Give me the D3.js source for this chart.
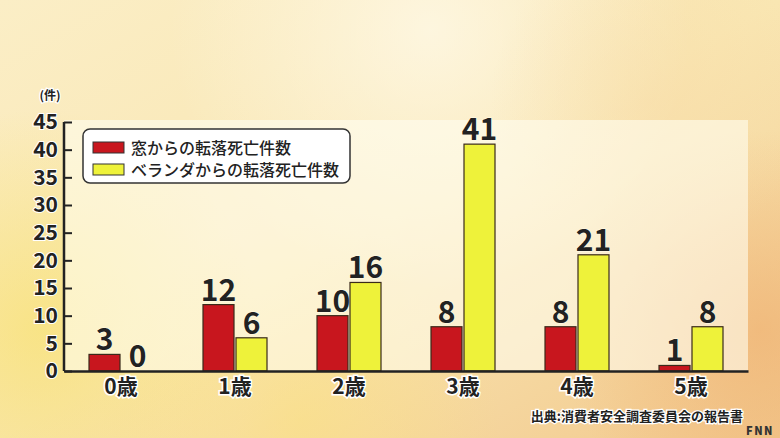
<!DOCTYPE html>
<html><head><meta charset="utf-8">
<script src="https://cdn.jsdelivr.net/npm/d3@7"></script>
<style>
html,body{margin:0;padding:0;background:#f6e4b4;}
svg{display:block;}
text{font-family:"Noto Sans CJK JP","Noto Sans",sans-serif;}
</style></head>
<body>
<svg id="chart" width="780" height="438"></svg>
<script>
const categories = ["0歳","1歳","2歳","3歳","4歳","5歳"];
const windowDeaths = [3,12,10,8,8,1];
const balconyDeaths = [0,6,16,41,21,8];
const seriesNames = ["窓からの転落死亡件数","ベランダからの転落死亡件数"];
const yTicks = [0,5,10,15,20,25,30,35,40,45];
const unitLabel = "(件)";
const sourceText = "出典:消費者安全調査委員会の報告書";

const svg = d3.select("#chart");
const W = 780, H = 438;
const m = {left:64, right:32, top:122, bottom:67};
const defs = svg.append("defs");

// background
const bg = defs.append("linearGradient").attr("id","bg").attr("x1",0).attr("y1",0).attr("x2",1).attr("y2",1);
bg.append("stop").attr("offset","0%").attr("stop-color","#fbeec6");
bg.append("stop").attr("offset","50%").attr("stop-color","#f9e6b2");
bg.append("stop").attr("offset","100%").attr("stop-color","#f2c98e");
svg.append("rect").attr("width",W).attr("height",H).attr("fill","url(#bg)");
function glow(id,cx,cy,r,color,op){
  const g = defs.append("radialGradient").attr("id",id);
  g.append("stop").attr("offset","0%").attr("stop-color",color).attr("stop-opacity",op);
  g.append("stop").attr("offset","100%").attr("stop-color",color).attr("stop-opacity",0);
  svg.append("circle").attr("cx",cx).attr("cy",cy).attr("r",r).attr("fill",`url(#${id})`);
}
glow("g1",40,330,220,"#f7e060",0.55);
glow("g2",760,330,200,"#eea968",0.55);
glow("g3",430,30,260,"#fffbee",0.7);
glow("g4",300,420,200,"#fbe27a",0.5);
glow("g5",650,100,160,"#f8dca8",0.5);

const x = d3.scaleBand().domain(categories).range([m.left, W-m.right]).padding(0);
const y = d3.scaleLinear().domain([0,45]).range([H-m.bottom, m.top]);

// panel
svg.append("rect").attr("x",m.left).attr("y",m.top-2).attr("width",W-m.right-m.left).attr("height",H-m.bottom-m.top+2)
  .attr("fill","#fffdf0").attr("opacity",0.6);

const barW = 31, gap = 2;
const colors = ["#c8161e","#eef23a"];
const data = categories.map((c,i)=>({c, vals:[windowDeaths[i], balconyDeaths[i]]}));

const gBars = svg.append("g");
data.forEach(d=>{
  const cx = x(d.c) + x.bandwidth()/2;
  d.vals.forEach((v,j)=>{
    const bx = j===0 ? cx - gap/2 - barW : cx + gap/2;
    if (v>0) {
      gBars.append("rect").attr("x",bx).attr("y",y(v)).attr("width",barW).attr("height",y(0)-y(v))
        .attr("fill",colors[j]).attr("stroke","#3a2a1a").attr("stroke-width",1.2);
    }
    gBars.append("text").attr("x",bx+barW/2).attr("y",y(v)-4).attr("text-anchor","middle")
      .attr("font-size",30).attr("font-weight",700).attr("fill","#222")
      .attr("stroke","#fffbe8").attr("stroke-width",1).attr("paint-order","stroke")
      .text(v);
  });
});

// y axis
const yAxis = d3.axisLeft(y).tickValues(yTicks).tickSize(-8).tickPadding(14);
const ga = svg.append("g").attr("transform",`translate(${m.left},0)`).call(yAxis);
ga.select(".domain").attr("stroke","#222").attr("stroke-width",2.5).attr("d",`M0,${m.top}V${y(0)}`);
ga.selectAll(".tick line").attr("stroke","#222").attr("stroke-width",2);
ga.selectAll(".tick text").attr("font-size",21).attr("font-weight",700).attr("fill","#222")
  .attr("font-family","'Liberation Sans',Arial,sans-serif")
  .attr("stroke","#fff").attr("stroke-width",2).attr("paint-order","stroke").attr("dx",8);

// baseline / x axis
const xAxis = d3.axisBottom(x).tickSize(0).tickPadding(4);
const gx = svg.append("g").attr("transform",`translate(0,${y(0)})`).call(xAxis);
gx.select(".domain").attr("stroke","#222").attr("stroke-width",2.5);
gx.selectAll(".tick text").attr("font-size",21).attr("font-weight",700).attr("fill","#222")
  .attr("font-family","'Noto Sans CJK JP',sans-serif").attr("dy","0.9em")
  .attr("stroke","#fff").attr("stroke-width",3).attr("paint-order","stroke");

// unit label
svg.append("text").attr("x",50).attr("y",100).attr("text-anchor","middle").attr("font-size",12)
  .attr("font-weight",700).attr("fill","#222").attr("stroke","#fff").attr("stroke-width",2.5).attr("paint-order","stroke").text(unitLabel);

// legend
const lg = svg.append("g").attr("transform","translate(83,129)");
lg.append("rect").attr("width",267).attr("height",54).attr("rx",7).attr("fill","#fff").attr("stroke","#333").attr("stroke-width",1.5);
seriesNames.forEach((n,i)=>{
  lg.append("rect").attr("x",10).attr("y",13+i*22).attr("width",31).attr("height",11)
    .attr("fill",colors[i]).attr("stroke","#333").attr("stroke-width",1);
  lg.append("text").attr("x",48).attr("y",19+i*22).attr("dy","0.36em").attr("font-size",16).attr("font-weight",500)
    .attr("fill","#222").text(n);
});

// source
svg.append("text").attr("x",743).attr("y",421).attr("text-anchor","end").attr("font-size",13).attr("font-weight",700)
  .attr("fill","#222").attr("stroke","#fff").attr("stroke-width",2.5).attr("paint-order","stroke").text(sourceText);
// logo
svg.append("text").attr("x",774).attr("y",435).attr("text-anchor","end").attr("font-size",11).attr("font-weight",900)
  .attr("font-family","'Liberation Sans',Arial,sans-serif")
  .attr("letter-spacing",1.5).attr("fill","#333").text("FNN");
</script>
</body></html>
